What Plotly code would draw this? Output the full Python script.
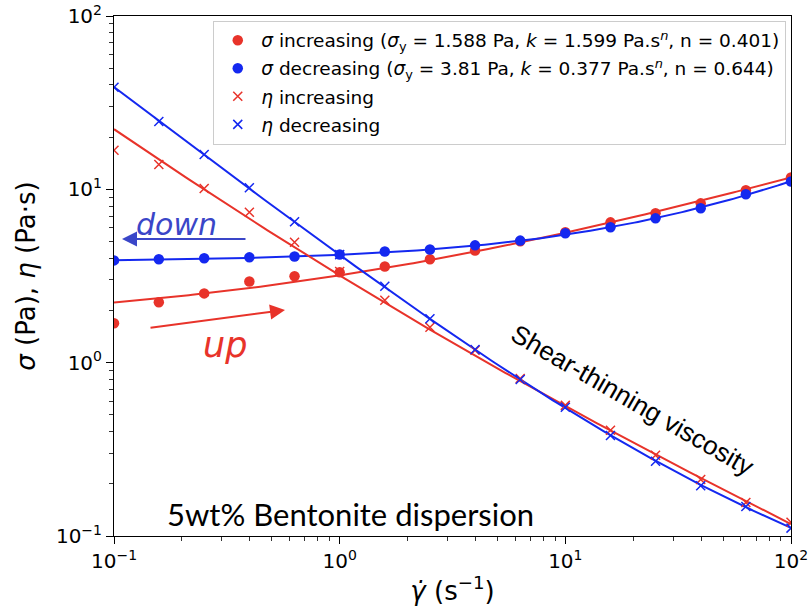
import numpy as np
import plotly.graph_objects as go

# shear rates (s^-1)
shear_rate = [0.1, 0.158, 0.251, 0.398, 0.631, 1.0, 1.585, 2.512, 3.98, 6.31,
              10.0, 15.85, 25.1, 39.8, 63.1, 100.0]

# shear stress (Pa)
sigma_inc = [1.69, 2.23, 2.51, 2.94, 3.15, 3.32, 3.59, 3.95, 4.44, 5.01,
             5.65, 6.45, 7.27, 8.3, 9.87, 11.7]
sigma_dec = [3.89, 3.95, 4.0, 4.05, 4.1, 4.21, 4.38, 4.5, 4.75, 5.06,
             5.58, 6.04, 6.8, 7.77, 9.37, 11.1]

# viscosity (Pa.s)
eta_inc = [16.8, 13.9, 10.1, 7.37, 4.95, 3.36, 2.29, 1.6, 1.18, 0.81,
           0.567, 0.407, 0.292, 0.212, 0.156, 0.12]
eta_dec = [38.8, 24.6, 15.9, 10.2, 6.5, 4.2, 2.76, 1.79, 1.19, 0.80,
           0.553, 0.38, 0.27, 0.195, 0.148, 0.111]

# Herschel-Bulkley fit parameters (from legend)
hb_inc = dict(sy=1.588, k=1.599, n=0.401)
hb_dec = dict(sy=3.81, k=0.377, n=0.644)

# axis ticks
decade_vals = [0.1, 1, 10, 100]
decade_text = ["10<sup>−1</sup>", "10<sup>0</sup>", "10<sup>1</sup>", "10<sup>2</sup>"]
minor_vals = [m * d for d in [0.1, 1, 10] for m in range(2, 10)]

RED = "#e8332a"
BLUE = "#1428f0"
DOWN_BLUE = "#3a46c8"

g = np.logspace(-1, 2, 200)
def hb(p):
    return p["sy"] + p["k"] * g ** p["n"]

fit_inc = hb(hb_inc)
fit_dec = hb(hb_dec)

fig = go.Figure()
# fit lines
for y, c in [(fit_inc, RED), (fit_dec, BLUE), (fit_inc / g, RED), (fit_dec / g, BLUE)]:
    fig.add_trace(go.Scatter(x=g, y=y, mode="lines", line=dict(color=c, width=2),
                             showlegend=False, hoverinfo="skip"))

fig.add_trace(go.Scatter(
    x=shear_rate, y=sigma_inc, mode="markers", legendgroup="a",
    marker=dict(color=RED, size=10.5, symbol="circle"),
    name=f"<i>σ</i> increasing (<i>σ</i><sub>y</sub> = {hb_inc['sy']} Pa, <i>k</i> = {hb_inc['k']} Pa.s<sup><i>n</i></sup>, n = {hb_inc['n']})"))
fig.add_trace(go.Scatter(
    x=shear_rate, y=sigma_dec, mode="markers", legendgroup="b",
    marker=dict(color=BLUE, size=10.5, symbol="circle"),
    name=f"<i>σ</i> decreasing (<i>σ</i><sub>y</sub> = {hb_dec['sy']} Pa, <i>k</i> = {hb_dec['k']} Pa.s<sup><i>n</i></sup>, n = {hb_dec['n']})"))
fig.add_trace(go.Scatter(
    x=shear_rate, y=eta_inc, mode="markers", legendgroup="c",
    marker=dict(symbol="x-thin", size=9, line=dict(color=RED, width=1.5), color=RED),
    name="<i>η</i> increasing"))
fig.add_trace(go.Scatter(
    x=shear_rate, y=eta_dec, mode="markers", legendgroup="d",
    marker=dict(symbol="x-thin", size=9, line=dict(color=BLUE, width=1.5), color=BLUE),
    name="<i>η</i> decreasing"))

# helper trace to carry the minor-tick overlay axes
fig.add_trace(go.Scatter(x=[1], y=[1], xaxis="x2", yaxis="y2", mode="markers",
                         marker=dict(opacity=0), showlegend=False, hoverinfo="skip"))

axis_common = dict(
    type="log", showgrid=False, zeroline=False, automargin=False,
    showline=True, linecolor="black", linewidth=1, mirror=True,
    ticks="outside", ticklen=7, tickwidth=1, tickcolor="black",
    tickmode="array", tickvals=decade_vals, ticktext=decade_text,
    tickfont=dict(family="DejaVu Sans", size=20, color="black"),
)
minor_axis = dict(
    type="log", range=[-1, 2], showgrid=False, zeroline=False, automargin=False,
    showline=False, ticks="outside", ticklen=4, tickwidth=1, tickcolor="#333333",
    tickmode="array", tickvals=minor_vals, showticklabels=False,
)

fig.update_layout(
    width=812, height=611,
    margin=dict(l=114, r=21, t=16, b=75),
    paper_bgcolor="white", plot_bgcolor="white",
    font=dict(family="DejaVu Sans", color="black"),
    xaxis=dict(range=[-1, 2], title=dict(text="<i>γ̇</i> (s<sup>−1</sup>)", font=dict(size=26), standoff=9), **axis_common),
    yaxis=dict(range=[-1, 2], title=dict(text="<i>σ</i> (Pa), <i>η</i> (Pa·s)", font=dict(size=26), standoff=12), **axis_common),
    xaxis2=dict(overlaying="x", anchor="y2", side="bottom", **minor_axis),
    yaxis2=dict(overlaying="y", anchor="x2", side="left", **minor_axis),
    legend=dict(x=0.993, y=0.991, xanchor="right", yanchor="top",
                bgcolor="white", bordercolor="#cccccc", borderwidth=1,
                font=dict(family="DejaVu Sans", size=18.5, color="black"),
                itemwidth=37, tracegroupgap=1),
    showlegend=True,
)

# annotations
fig.add_annotation(x=0.030, y=0.6, xref="paper", yref="paper", text="<i>down</i>",
                   showarrow=False, font=dict(family="DejaVu Sans", size=30, color=DOWN_BLUE),
                   xanchor="left", yanchor="middle")
fig.add_annotation(x=0.0118, y=0.571, xref="paper", yref="paper", text="", showarrow=True,
                   ax=125, ay=0, arrowhead=2, arrowsize=1.5, arrowwidth=2, arrowcolor=DOWN_BLUE)
fig.add_annotation(x=0.129, y=0.367, xref="paper", yref="paper", text="<i>up</i>",
                   showarrow=False, font=dict(family="DejaVu Sans", size=35, color=RED))
fig.add_annotation(x=0.2526, y=0.4346, xref="paper", yref="paper", text="", showarrow=True,
                   ax=-136, ay=18, arrowhead=2, arrowsize=1.5, arrowwidth=2, arrowcolor=RED)
fig.add_annotation(x=1.296, y=-0.218, xref="x", yref="y", text="Shear-thinning viscosity",
                   showarrow=False, textangle=30,
                   font=dict(family="Liberation Sans", size=26, color="black"))
fig.add_annotation(x=0.046, y=-0.875, xref="x", yref="y", text="5wt% Bentonite dispersion",
                   showarrow=False, font=dict(family="Lato", size=31, color="black"))

fig.write_html("out.html")
